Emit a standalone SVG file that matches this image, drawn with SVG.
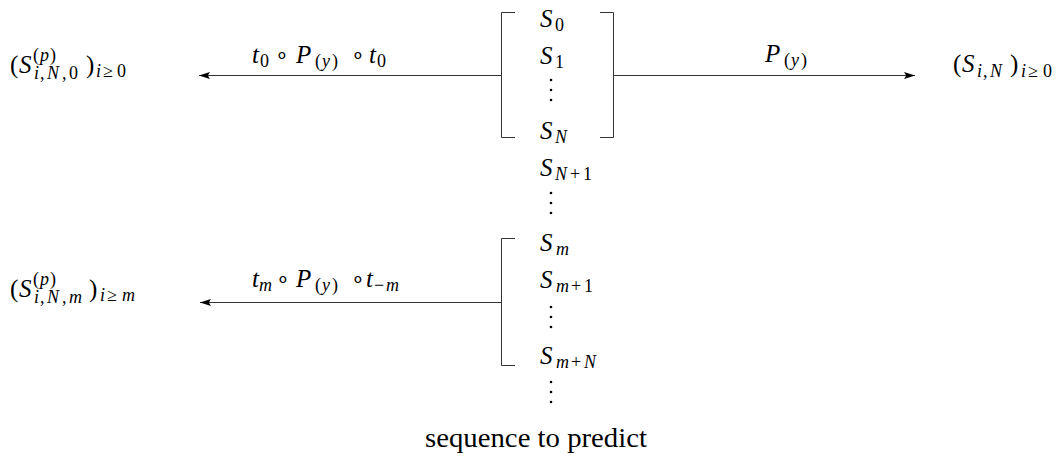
<svg xmlns="http://www.w3.org/2000/svg" width="1063" height="458" viewBox="0 0 1063 458">
<defs>
<marker id="ah" viewBox="0 0 11 8" refX="11" refY="4" markerWidth="11" markerHeight="8" orient="auto" markerUnits="userSpaceOnUse">
<path d="M0,0.6 L11,4 L0,7.4 L2.2,4 Z" fill="#000"/>
</marker>
</defs>
<rect width="1063" height="458" fill="#fff"/>

<g id="connectors">
<g stroke="#333" stroke-width="1" fill="none">
<path d="M501,75.5 H199" marker-end="url(#ah)"/>
<path d="M614,75.5 H915" marker-end="url(#ah)"/>
<path d="M501,302.5 H200" marker-end="url(#ah)"/>
</g>
<g id="label-top-left">
<text font-family="Liberation Serif" font-size="25" font-style="italic" x="252" y="63">t</text><text font-family="Liberation Serif" font-size="18" x="260" y="67">0</text>
<text font-family="Liberation Serif" font-size="22" x="275" y="62">∘</text>
<text font-family="Liberation Serif" font-size="25" font-style="italic" x="296" y="63">P</text>
<text font-family="Liberation Serif" font-size="18" x="315" y="67">(</text><text font-family="Liberation Serif" font-size="18" font-style="italic" x="322" y="67">y</text><text font-family="Liberation Serif" font-size="18" x="332" y="67">)</text>
<text font-family="Liberation Serif" font-size="22" x="351" y="62">∘</text>
<text font-family="Liberation Serif" font-size="25" font-style="italic" x="369" y="63">t</text><text font-family="Liberation Serif" font-size="18" x="377" y="67">0</text>
</g>
<g id="label-right">
<text font-family="Liberation Serif" font-size="25" font-style="italic" x="765" y="62">P</text>
<text font-family="Liberation Serif" font-size="18" x="784" y="66">(</text><text font-family="Liberation Serif" font-size="18" font-style="italic" x="791" y="66">y</text><text font-family="Liberation Serif" font-size="18" x="801" y="66">)</text>
</g>
<g id="label-bottom-left">
<text font-family="Liberation Serif" font-size="25" font-style="italic" x="252" y="287">t</text><text font-family="Liberation Serif" font-size="18" font-style="italic" x="259" y="291">m</text>
<text font-family="Liberation Serif" font-size="22" x="276" y="286">∘</text>
<text font-family="Liberation Serif" font-size="25" font-style="italic" x="296" y="287">P</text>
<text font-family="Liberation Serif" font-size="18" x="315" y="291">(</text><text font-family="Liberation Serif" font-size="18" font-style="italic" x="322" y="291">y</text><text font-family="Liberation Serif" font-size="18" x="332" y="291">)</text>
<text font-family="Liberation Serif" font-size="22" x="351" y="286">∘</text>
<text font-family="Liberation Serif" font-size="25" font-style="italic" x="366" y="287">t</text><text font-family="Liberation Serif" font-size="18" x="374" y="291">−</text><text font-family="Liberation Serif" font-size="18" font-style="italic" x="386" y="291">m</text>
</g>
</g>

<g id="window0" stroke="#333" stroke-width="1" fill="none">
<path d="M515,12.5 H501.5 V137.5 H515"/>
<path d="M600,12.5 H613.5 V137.5 H600"/>
</g>
<g id="windowm" stroke="#333" stroke-width="1" fill="none">
<path d="M515,238.5 H501.5 V365.5 H515"/>
</g>

<g id="sequence">
<text font-family="Liberation Serif" font-size="25" font-style="italic" x="540" y="27">S</text><text font-family="Liberation Serif" font-size="18" x="555" y="31">0</text>
<text font-family="Liberation Serif" font-size="25" font-style="italic" x="540" y="64">S</text><text font-family="Liberation Serif" font-size="18" x="555" y="68">1</text>
<g fill="#000"><circle cx="551" cy="80" r="1.3"/><circle cx="551" cy="90" r="1.3"/><circle cx="551" cy="100" r="1.3"/></g>
<text font-family="Liberation Serif" font-size="25" font-style="italic" x="540" y="139">S</text><text font-family="Liberation Serif" font-size="18" font-style="italic" x="555" y="143">N</text>
<text font-family="Liberation Serif" font-size="25" font-style="italic" x="540" y="176">S</text><text font-family="Liberation Serif" font-size="18" font-style="italic" x="555" y="180">N</text><text font-family="Liberation Serif" font-size="18" x="570" y="180">+</text><text font-family="Liberation Serif" font-size="18" x="583" y="180">1</text>
<g fill="#000"><circle cx="551" cy="193" r="1.3"/><circle cx="551" cy="203" r="1.3"/><circle cx="551" cy="213" r="1.3"/></g>
<text font-family="Liberation Serif" font-size="25" font-style="italic" x="540" y="251">S</text><text font-family="Liberation Serif" font-size="18" font-style="italic" x="556" y="255">m</text>
<text font-family="Liberation Serif" font-size="25" font-style="italic" x="540" y="288">S</text><text font-family="Liberation Serif" font-size="18" font-style="italic" x="556" y="292">m</text><text font-family="Liberation Serif" font-size="18" x="571" y="292">+</text><text font-family="Liberation Serif" font-size="18" x="584" y="292">1</text>
<g fill="#000"><circle cx="551" cy="307" r="1.3"/><circle cx="551" cy="317" r="1.3"/><circle cx="551" cy="327" r="1.3"/></g>
<text font-family="Liberation Serif" font-size="25" font-style="italic" x="540" y="364">S</text><text font-family="Liberation Serif" font-size="18" font-style="italic" x="556" y="368">m</text><text font-family="Liberation Serif" font-size="18" x="571" y="368">+</text><text font-family="Liberation Serif" font-size="18" font-style="italic" x="584" y="368">N</text>
<g fill="#000"><circle cx="551" cy="382" r="1.3"/><circle cx="551" cy="392" r="1.3"/><circle cx="551" cy="402" r="1.3"/></g>
<text font-family="Liberation Serif" font-size="27" x="425" y="447" textLength="222" lengthAdjust="spacingAndGlyphs">sequence to predict</text>
</g>

<g id="out0">
<text font-family="Liberation Serif" font-size="25" x="10" y="73">(</text><text font-family="Liberation Serif" font-size="25" font-style="italic" x="19" y="73">S</text>
<text font-family="Liberation Serif" font-size="18" x="33" y="61">(</text><text font-family="Liberation Serif" font-size="18" font-style="italic" x="40" y="61">p</text><text font-family="Liberation Serif" font-size="18" x="50" y="61">)</text>
<text font-family="Liberation Serif" font-size="18" font-style="italic" x="34" y="79">i</text><text font-family="Liberation Serif" font-size="18" x="40" y="79">,</text><text font-family="Liberation Serif" font-size="18" font-style="italic" x="47" y="79">N</text><text font-family="Liberation Serif" font-size="18" x="62" y="79">,</text><text font-family="Liberation Serif" font-size="18" x="69" y="79">0</text>
<text font-family="Liberation Serif" font-size="25" x="86" y="73">)</text>
<text font-family="Liberation Serif" font-size="18" font-style="italic" x="96" y="77">i</text><text font-family="Liberation Serif" font-size="18" x="103" y="77">≥</text><text font-family="Liberation Serif" font-size="18" x="117" y="77">0</text>
</g>

<g id="outN">
<text font-family="Liberation Serif" font-size="25" x="953" y="72">(</text><text font-family="Liberation Serif" font-size="25" font-style="italic" x="962" y="72">S</text>
<text font-family="Liberation Serif" font-size="18" font-style="italic" x="977" y="77">i</text><text font-family="Liberation Serif" font-size="18" x="983" y="77">,</text><text font-family="Liberation Serif" font-size="18" font-style="italic" x="990" y="77">N</text>
<text font-family="Liberation Serif" font-size="25" x="1010" y="72">)</text>
<text font-family="Liberation Serif" font-size="18" font-style="italic" x="1021" y="77">i</text><text font-family="Liberation Serif" font-size="18" x="1028" y="77">≥</text><text font-family="Liberation Serif" font-size="18" x="1043" y="77">0</text>
</g>

<g id="outm">
<text font-family="Liberation Serif" font-size="25" x="10" y="297">(</text><text font-family="Liberation Serif" font-size="25" font-style="italic" x="19" y="297">S</text>
<text font-family="Liberation Serif" font-size="18" x="33" y="285">(</text><text font-family="Liberation Serif" font-size="18" font-style="italic" x="40" y="285">p</text><text font-family="Liberation Serif" font-size="18" x="50" y="285">)</text>
<text font-family="Liberation Serif" font-size="18" font-style="italic" x="34" y="303">i</text><text font-family="Liberation Serif" font-size="18" x="40" y="303">,</text><text font-family="Liberation Serif" font-size="18" font-style="italic" x="47" y="303">N</text><text font-family="Liberation Serif" font-size="18" x="62" y="303">,</text><text font-family="Liberation Serif" font-size="18" font-style="italic" x="69" y="303">m</text>
<text font-family="Liberation Serif" font-size="25" x="89" y="297">)</text>
<text font-family="Liberation Serif" font-size="18" font-style="italic" x="100" y="301">i</text><text font-family="Liberation Serif" font-size="18" x="107" y="301">≥</text><text font-family="Liberation Serif" font-size="18" font-style="italic" x="122" y="301">m</text>
</g>
</svg>
